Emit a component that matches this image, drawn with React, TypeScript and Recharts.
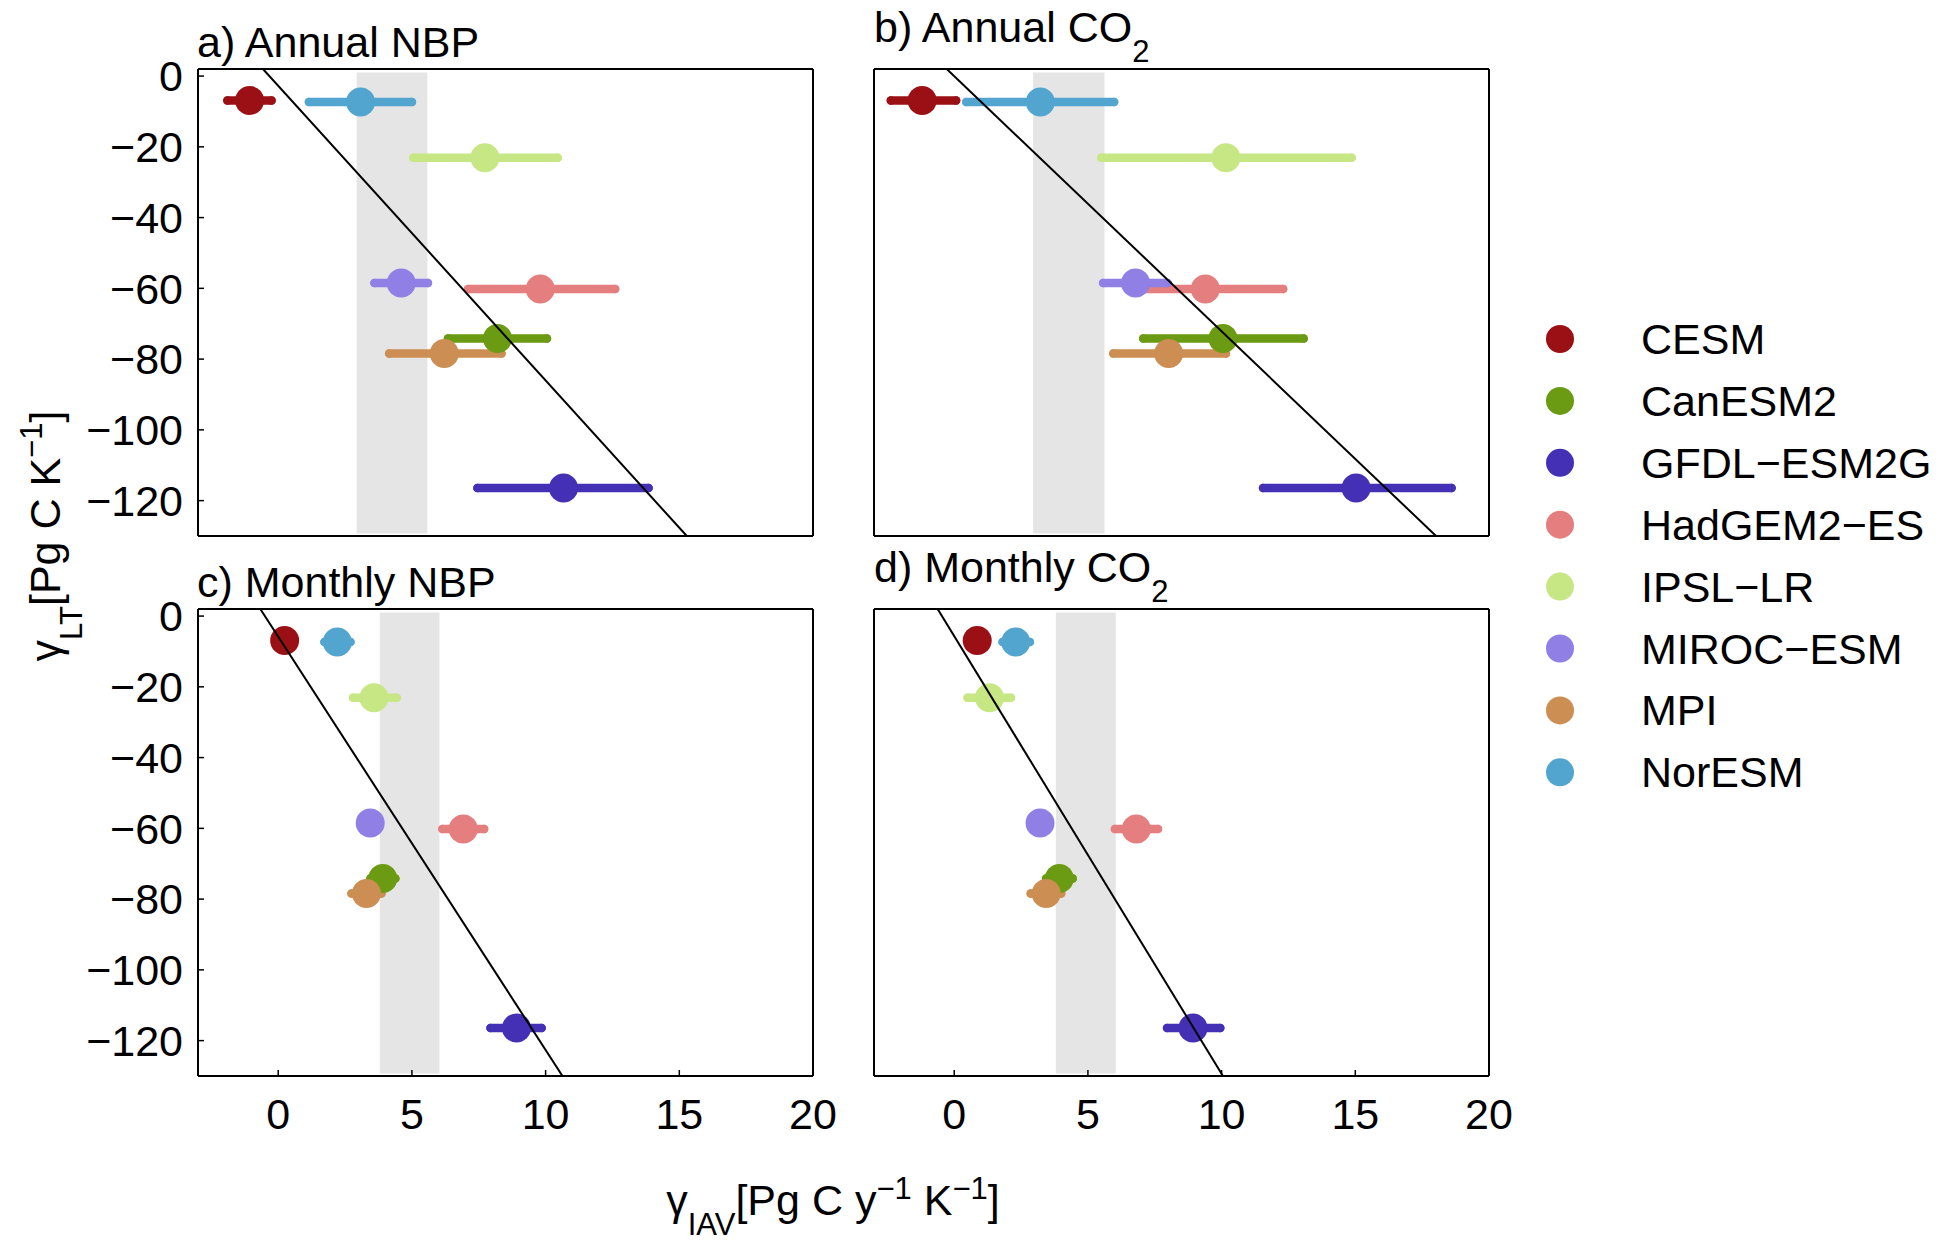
import React from "react";
import { ScatterChart, Scatter, XAxis, YAxis, ErrorBar, ReferenceArea } from "recharts";

const FONT = '"Liberation Sans", Arial, Helvetica, sans-serif';

const MODELS = ["CESM", "CanESM2", "GFDL\u2212ESM2G", "HadGEM2\u2212ES", "IPSL\u2212LR", "MIROC\u2212ESM", "MPI", "NorESM"];
const COLORS = ["#9a1014", "#6a9b12", "#4330b5", "#e57e7e", "#c6e784", "#9080e6", "#cc8e52", "#52a5cf"];

// long-term sensitivity, shared by all four panels
const GAMMA_LT = [-6.9, -74.2, -116.4, -60.2, -23.1, -58.5, -78.4, -7.3];

// interannual sensitivity: best estimate and range per model
const ANNUAL_NBP = [-1.07, 8.2, 10.67, 9.8, 7.73, 4.6, 6.21, 3.08];
const ANNUAL_NBP_LO = [-1.9, 6.35, 7.45, 7.1, 5.05, 3.6, 4.15, 1.15];
const ANNUAL_NBP_HI = [-0.25, 10.05, 13.85, 12.6, 10.45, 5.6, 8.35, 5.0];

const ANNUAL_CO2 = [-1.2, 10.05, 15.03, 9.39, 10.16, 6.78, 8.02, 3.22];
const ANNUAL_CO2_LO = [-2.37, 7.07, 11.55, 7.15, 5.5, 5.57, 5.95, 0.45];
const ANNUAL_CO2_HI = [0.07, 13.07, 18.6, 12.3, 14.86, 7.98, 10.16, 5.98];

const MONTHLY_NBP = [0.24, 3.91, 8.91, 6.92, 3.58, 3.44, 3.3, 2.21];
const MONTHLY_NBP_LO = [0.1, 3.45, 7.94, 6.14, 2.8, 3.2, 2.74, 1.73];
const MONTHLY_NBP_HI = [0.4, 4.38, 9.85, 7.7, 4.43, 3.7, 3.86, 2.7];

const MONTHLY_CO2 = [0.86, 3.93, 8.93, 6.81, 1.32, 3.21, 3.44, 2.3];
const MONTHLY_CO2_LO = [0.7, 3.44, 7.96, 6.01, 0.5, 3.0, 2.86, 1.81];
const MONTHLY_CO2_HI = [1.0, 4.43, 9.95, 7.62, 2.12, 3.4, 4.0, 2.83];

// observed range (grey band) and fitted line end points (x at top / bottom of the box)
const BAND_ANNUAL_NBP = [2.93, 5.58];
const BAND_ANNUAL_CO2 = [2.95, 5.62];
const BAND_MONTHLY_NBP = [3.8, 6.03];
const BAND_MONTHLY_CO2 = [3.8, 6.04];

const FIT_ANNUAL_NBP = [-0.57, 15.28];
const FIT_ANNUAL_CO2 = [-0.28, 18.02];
const FIT_MONTHLY_NBP = [-0.67, 10.63];
const FIT_MONTHLY_CO2 = [-0.62, 10.05];

const X_DOMAIN = [-3, 20];
const Y_DOMAIN = [-130, 2];
const X_TICKS = [0, 5, 10, 15, 20];
const Y_TICKS = [-120, -100, -80, -60, -40, -20, 0];
const BAND_Y = [-129.3, 1.0];

const BOX_W = 615;
const BOX_H = 467;
const LEFT_W = 130;
const BOTTOM_H = 70;
// spare room so edge tick labels are not clipped by the svg
const PAD_TOP = 30;
const PAD_RIGHT = 40;

const fmt = (v: number) => (v < 0 ? "\u2212" + Math.abs(v) : String(v));

const tickStyle = { fill: "#000", fontSize: 43, fontFamily: FONT };
const axisLine = { stroke: "#000", strokeWidth: 2 };
const tickLine = { stroke: "#000", strokeWidth: 1.5 };

interface PanelProps {
  left: number;
  top: number;
  center: number[];
  lo: number[];
  hi: number[];
  band: number[];
  fit: number[];
  showX: boolean;
  showY: boolean;
}

function Panel({ left, top, center, lo, hi, band, fit, showX, showY }: PanelProps) {
  const rows = MODELS.map((name, i) => ({
    name,
    x: center[i],
    y: GAMMA_LT[i],
    err: [center[i] - lo[i], hi[i] - center[i]],
  }));
  const fitLine = [
    { x: fit[0], y: Y_DOMAIN[1] },
    { x: fit[1], y: Y_DOMAIN[0] },
  ];

  return (
    <div style={{ position: "absolute", left: left - LEFT_W, top: top - 1 - PAD_TOP }}>
      <ScatterChart
        width={LEFT_W + BOX_W + 1 + PAD_RIGHT}
        height={PAD_TOP + 1 + BOX_H + BOTTOM_H}
        margin={{ top: PAD_TOP, right: PAD_RIGHT, bottom: 0, left: 0 }}
      >
        <XAxis
          xAxisId="b"
          type="number"
          dataKey="x"
          domain={X_DOMAIN}
          ticks={X_TICKS}
          interval={0}
          allowDataOverflow
          orientation="bottom"
          height={BOTTOM_H}
          tickSize={-6}
          tickMargin={28}
          tickFormatter={fmt}
          tick={showX ? tickStyle : false}
          axisLine={axisLine}
          tickLine={tickLine}
        />
        <XAxis
          xAxisId="t"
          type="number"
          dataKey="x"
          domain={X_DOMAIN}
          ticks={X_TICKS}
          interval={0}
          allowDataOverflow
          orientation="top"
          height={1}
          tickSize={-6}
          tick={false}
          axisLine={axisLine}
          tickLine={tickLine}
        />
        <YAxis
          yAxisId="l"
          type="number"
          dataKey="y"
          domain={Y_DOMAIN}
          ticks={Y_TICKS}
          interval={0}
          allowDataOverflow
          orientation="left"
          width={LEFT_W}
          tickSize={-6}
          tickMargin={21}
          tickFormatter={fmt}
          tick={showY ? tickStyle : false}
          axisLine={axisLine}
          tickLine={tickLine}
        />
        <YAxis
          yAxisId="r"
          type="number"
          dataKey="y"
          domain={Y_DOMAIN}
          ticks={Y_TICKS}
          interval={0}
          allowDataOverflow
          orientation="right"
          width={1}
          tickSize={-6}
          tick={false}
          axisLine={axisLine}
          tickLine={tickLine}
        />
        <ReferenceArea
          xAxisId="b"
          yAxisId="l"
          x1={band[0]}
          x2={band[1]}
          y1={BAND_Y[0]}
          y2={BAND_Y[1]}
          fill="#e5e5e5"
          fillOpacity={1}
          stroke="none"
        />
        {rows.map((r, i) => (
          <Scatter
            key={r.name}
            name={r.name}
            data={[r]}
            xAxisId="b"
            yAxisId="l"
            fill={COLORS[i]}
            isAnimationActive={false}
            shape={(p: any) => <circle cx={p.cx} cy={p.cy} r={14.5} fill={COLORS[i]} />}
          >
            <ErrorBar
              dataKey="err"
              direction="x"
              width={0}
              stroke={COLORS[i]}
              strokeWidth={8.5}
              strokeLinecap="round"
              isAnimationActive={false}
            />
          </Scatter>
        ))}
        <Scatter
          data={fitLine}
          xAxisId="t"
          yAxisId="r"
          fill="#000"
          line={{ stroke: "#000", strokeWidth: 2 }}
          lineType="joint"
          isAnimationActive={false}
          shape={() => <g />}
        />
      </ScatterChart>
    </div>
  );
}

function Title({ x, y, text, sub }: { x: number; y: number; text: string; sub?: string }) {
  return (
    <text x={x} y={y} fontSize={43} fontFamily={FONT} fill="#000">
      {text}
      {sub && (
        <tspan dy={20} fontSize={31}>
          {sub}
        </tspan>
      )}
    </text>
  );
}

export default function App() {
  return (
    <div
      style={{
        position: "absolute",
        left: 0,
        top: 0,
        width: 1955,
        height: 1241,
        background: "#fff",
        overflow: "hidden",
      }}
    >
      <Panel left={198} top={69} center={ANNUAL_NBP} lo={ANNUAL_NBP_LO} hi={ANNUAL_NBP_HI}
        band={BAND_ANNUAL_NBP} fit={FIT_ANNUAL_NBP} showX={false} showY />
      <Panel left={874} top={69} center={ANNUAL_CO2} lo={ANNUAL_CO2_LO} hi={ANNUAL_CO2_HI}
        band={BAND_ANNUAL_CO2} fit={FIT_ANNUAL_CO2} showX={false} showY={false} />
      <Panel left={198} top={609} center={MONTHLY_NBP} lo={MONTHLY_NBP_LO} hi={MONTHLY_NBP_HI}
        band={BAND_MONTHLY_NBP} fit={FIT_MONTHLY_NBP} showX showY />
      <Panel left={874} top={609} center={MONTHLY_CO2} lo={MONTHLY_CO2_LO} hi={MONTHLY_CO2_HI}
        band={BAND_MONTHLY_CO2} fit={FIT_MONTHLY_CO2} showX showY={false} />

      <svg
        width={1955}
        height={1241}
        style={{ position: "absolute", left: 0, top: 0, pointerEvents: "none" }}
      >
        <Title x={197} y={57} text="a) Annual NBP" />
        <Title x={874} y={42} text="b) Annual CO" sub="2" />
        <Title x={197} y={597} text="c) Monthly NBP" />
        <Title x={874} y={582} text="d) Monthly CO" sub="2" />

        {/* y axis label, reads bottom to top */}
        <text
          transform="translate(60 536) rotate(-90)"
          textAnchor="middle"
          fontSize={43}
          fontFamily={FONT}
          fill="#000"
        >
          {"\u03b3"}
          <tspan dy={22} fontSize={31}>LT</tspan>
          <tspan dy={-22}>[Pg C K</tspan>
          <tspan dy={-18} fontSize={31}>{"\u22121"}</tspan>
          <tspan dy={18}>]</tspan>
        </text>

        {/* x axis label */}
        <text x={833} y={1215} textAnchor="middle" fontSize={43} fontFamily={FONT} fill="#000">
          {"\u03b3"}
          <tspan dy={20} fontSize={31}>IAV</tspan>
          <tspan dy={-20}>[Pg C y</tspan>
          <tspan dy={-16} fontSize={31}>{"\u22121"}</tspan>
          <tspan dy={16}> K</tspan>
          <tspan dy={-16} fontSize={31}>{"\u22121"}</tspan>
          <tspan dy={16}>]</tspan>
        </text>

        {/* legend */}
        {MODELS.map((m, i) => (
          <g key={m}>
            <circle cx={1560} cy={339 + i * 61.9} r={14} fill={COLORS[i]} />
            <text x={1641} y={339 + i * 61.9 + 15} fontSize={43} fontFamily={FONT} fill="#000">
              {m}
            </text>
          </g>
        ))}
      </svg>
    </div>
  );
}
